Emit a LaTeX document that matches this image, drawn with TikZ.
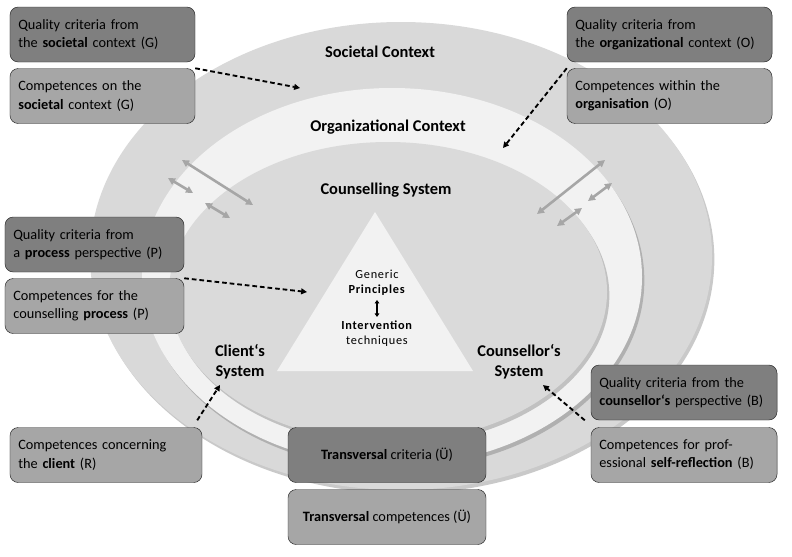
\documentclass[tikz,border=0pt]{standalone}
\usepackage{fontspec}
\setmainfont{Carlito}
\usetikzlibrary{arrows.meta,shadows}

\definecolor{bandgray}{HTML}{D9D9D9}
\definecolor{orglight}{HTML}{F2F2F2}
\definecolor{innergray}{HTML}{DADADA}
\definecolor{boxdark}{HTML}{7F7F7F}
\definecolor{boxmid}{HTML}{A6A6A6}
\definecolor{arrgray}{HTML}{A6A6A6}

\tikzset{
  box/.style={draw=black!85,thin,rounded corners=7pt,minimum height=1.65cm,
    inner xsep=0.25cm,align=left,text width=#1,font=\fontsize{12.2}{15.5}\selectfont},
  qbox/.style={box=#1,fill=boxdark},
  cbox/.style={box=#1,fill=boxmid},
  tbox/.style={draw=black!85,thin,rounded corners=7pt,minimum height=1.65cm,
    minimum width=#1,align=center,font=\fontsize{12.2}{15.5}\selectfont},
  heading/.style={font=\bfseries\fontsize{14}{17}\selectfont,align=center},
  tritext/.style={font=\fontsize{10.5}{13}\selectfont\addfontfeatures{LetterSpace=6},align=center},
  dasharrow/.style={line width=1.6pt,dash pattern=on 4pt off 2.5pt,-{Triangle[length=5pt,width=5pt]}},
  grayarrow/.style={draw=arrgray,line width=2.2pt,{Triangle[length=6pt,width=6pt]}-{Triangle[length=6pt,width=6pt]}},
  ellshadow/.style={drop shadow={shadow xshift=2pt,shadow yshift=-3pt,opacity=0.35,fill=black!60}}
}

\begin{document}
\begin{tikzpicture}[x=0.03cm,y=-0.03cm]
  \useasboundingbox[fill=white] (0,0) rectangle (792,556);

  % contexts
  \fill[bandgray,ellshadow] (401,256) ellipse [x radius=311,y radius=234];
  \fill[orglight,ellshadow] (392,277) ellipse [x radius=250,y radius=189];
  \fill[innergray,ellshadow] (388,292) ellipse [x radius=219,y radius=150];
  \fill[orglight] (375,212) -- (473,371) -- (277,371) -- cycle;

  \node[heading] (soc) at (380,52) {Societal Context};
  \node[heading] (org) at (388,127) {Organizational Context};
  \node[heading] (csys) at (386,190) {Counselling System};
  \node[heading] (client) at (240,362) {Client‘s\\System};
  \node[heading] (counsellor) at (519,362) {Counsellor‘s\\System};

  \node[tritext] (gp) at (377,283) {Generic\\\textbf{Principles}};
  \node[tritext] (it) at (377,334) {\textbf{Intervention}\\techniques};
  \draw[line width=1.2pt,{Triangle[length=3pt,width=4pt]}-{Triangle[length=3pt,width=4pt]}] (gp.south) -- (it.north);

  % exchange arrows
  \draw[grayarrow] (182,160) -- (253,205);
  \draw[grayarrow] (168,178) -- (193,193);
  \draw[grayarrow] (205,203) -- (230,218);
  \draw[grayarrow] (605,160) -- (537,214);
  \draw[grayarrow] (612,183) -- (588,201);
  \draw[grayarrow] (582,208) -- (557,226);

  % criteria and competences
  \node[qbox=5.05cm] (qg) at (102.5,34.5) {Quality criteria from\\the \textbf{societal} context (G)};
  \node[cbox=5.05cm] (cg) at (102.5,96) {Competences on the\\\textbf{societal} context (G)};
  \node[qbox=5.65cm] (qo) at (669.5,34.5) {Quality criteria from\\the \textbf{organizational} context (O)};
  \node[cbox=5.65cm] (co) at (669.5,96) {Competences within the\\\textbf{organisation} (O)};
  \node[qbox=4.87cm] (qp) at (94.5,244.5) {Quality criteria from\\a \textbf{process} perspective (P)};
  \node[cbox=4.87cm] (cp) at (94.5,306) {Competences for the\\counselling \textbf{process} (P)};
  \node[cbox=5.26cm] (cr) at (106,455) {Competences concerning\\the \textbf{client} (R)};
  \node[tbox=5.94cm,fill=boxdark] (tc) at (387,455) {\textbf{Transversal} criteria (Ü)};
  \node[tbox=5.94cm,fill=boxmid] (tcomp) at (387,517) {\textbf{Transversal} competences (Ü)};
  \node[qbox=5.08cm] (qb) at (684,392.5) {Quality criteria from the\\\textbf{counsellor‘s} perspective (B)};
  \node[cbox=5.08cm] (cb) at (684,455) {Competences for prof-\\essional \textbf{self-reflection} (B)};

  \coordinate (socpt) at (300,88);
  \coordinate (orgpt) at (503,148);
  \coordinate (procpt) at (307,292);
  \coordinate (clipt) at (220,385);
  \coordinate (coupt) at (543,385);

  \draw[dasharrow] (cg.north east) -- (socpt);
  \draw[dasharrow] (co.north west) -- (orgpt);
  \draw[dasharrow] (cp.north east) -- (procpt);
  \draw[dasharrow] ([shift={(-5,-7)}]cr.north east) -- (clipt);
  \draw[dasharrow] ([shift={(-6,-7)}]cb.north west) -- (coupt);
\end{tikzpicture}
\end{document}
